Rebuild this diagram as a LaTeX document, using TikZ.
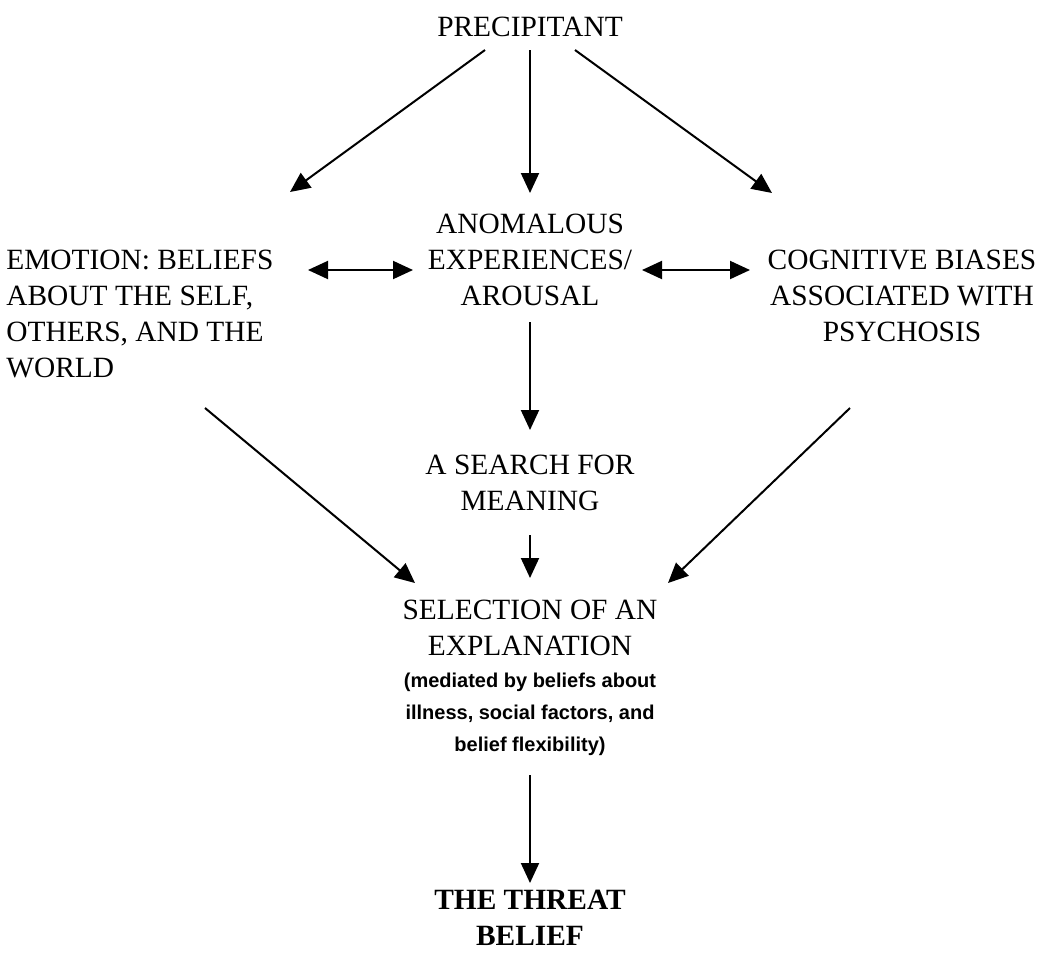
\documentclass[tikz,border=0pt]{standalone}
\usepackage{fontspec}
\setmainfont{Liberation Serif}
\newfontfamily\notefont{Liberation Sans}
\usepackage{tikz}
\usetikzlibrary{arrows.meta,calc}

\tikzset{
  box/.style={inner sep=0pt, align=center, font=\fontsize{14.7}{18}\selectfont},
  note/.style={inner sep=0pt, align=center, font=\notefont\bfseries\fontsize{10}{16}\selectfont},
  arr/.style={line width=1pt, -{Triangle[length=10pt,width=9pt]}},
  dbl/.style={line width=1pt, {Triangle[length=10pt,width=9pt]}-{Triangle[length=10pt,width=9pt]}}
}

\begin{document}
\begin{tikzpicture}[x=0.5pt, y=-0.5pt]
  \useasboundingbox (0,0) rectangle (1040,965);

  % Top
  \node[box] (prec) at (530, 27) {PRECIPITANT};

  % Middle row
  \node[box, align=left, anchor=west] (emo) at (6, 314) {EMOTION: BELIEFS\\ABOUT THE SELF,\\OTHERS, AND THE\\WORLD};
  \node[box] (anom) at (530, 260) {ANOMALOUS\\EXPERIENCES/\\AROUSAL};
  \node[box] (cog) at (902, 296) {COGNITIVE BIASES\\ASSOCIATED WITH\\PSYCHOSIS};

  % Lower part
  \node[box] (search) at (530, 483) {A SEARCH FOR\\MEANING};
  \node[box] (sel) at (530, 628) {SELECTION OF AN\\EXPLANATION};
  \node[note] (selnote) at (530, 714) {(mediated by beliefs about\\illness, social factors, and\\belief flexibility)};
  \node[box, font=\bfseries\fontsize{14.7}{18}\selectfont] (threat) at (530, 918) {THE THREAT\\BELIEF};

  % Arrows from the precipitant
  \draw[arr] ($(prec.center)+(-45,23)$) -- ($(emo.west)+(284,-122)$);
  \draw[arr] ($(prec.center)+(0,23)$) -- ($(anom.center)+(0,-67)$);
  \draw[arr] ($(prec.center)+(45,23)$) -- ($(cog.center)+(-130,-103)$);

  % Two-way arrows
  \draw[dbl] ($(emo.west)+(302,-44)$) -- ($(anom.center)+(-117,10)$);
  \draw[dbl] ($(anom.center)+(112,10)$) -- ($(cog.center)+(-152,-26)$);

  % Down to the explanation
  \draw[arr] ($(anom.center)+(0,62)$) -- ($(search.center)+(0,-53)$);
  \draw[arr] ($(search.center)+(0,52)$) -- ($(sel.center)+(0,-50)$);
  \draw[arr] ($(emo.west)+(199,94)$) -- ($(sel.center)+(-115,-45)$);
  \draw[arr] ($(cog.center)+(-52,112)$) -- ($(sel.center)+(138,-45)$);
  \draw[arr] ($(selnote.center)+(0,61)$) -- ($(threat.center)+(0,-35)$);
\end{tikzpicture}
\end{document}
